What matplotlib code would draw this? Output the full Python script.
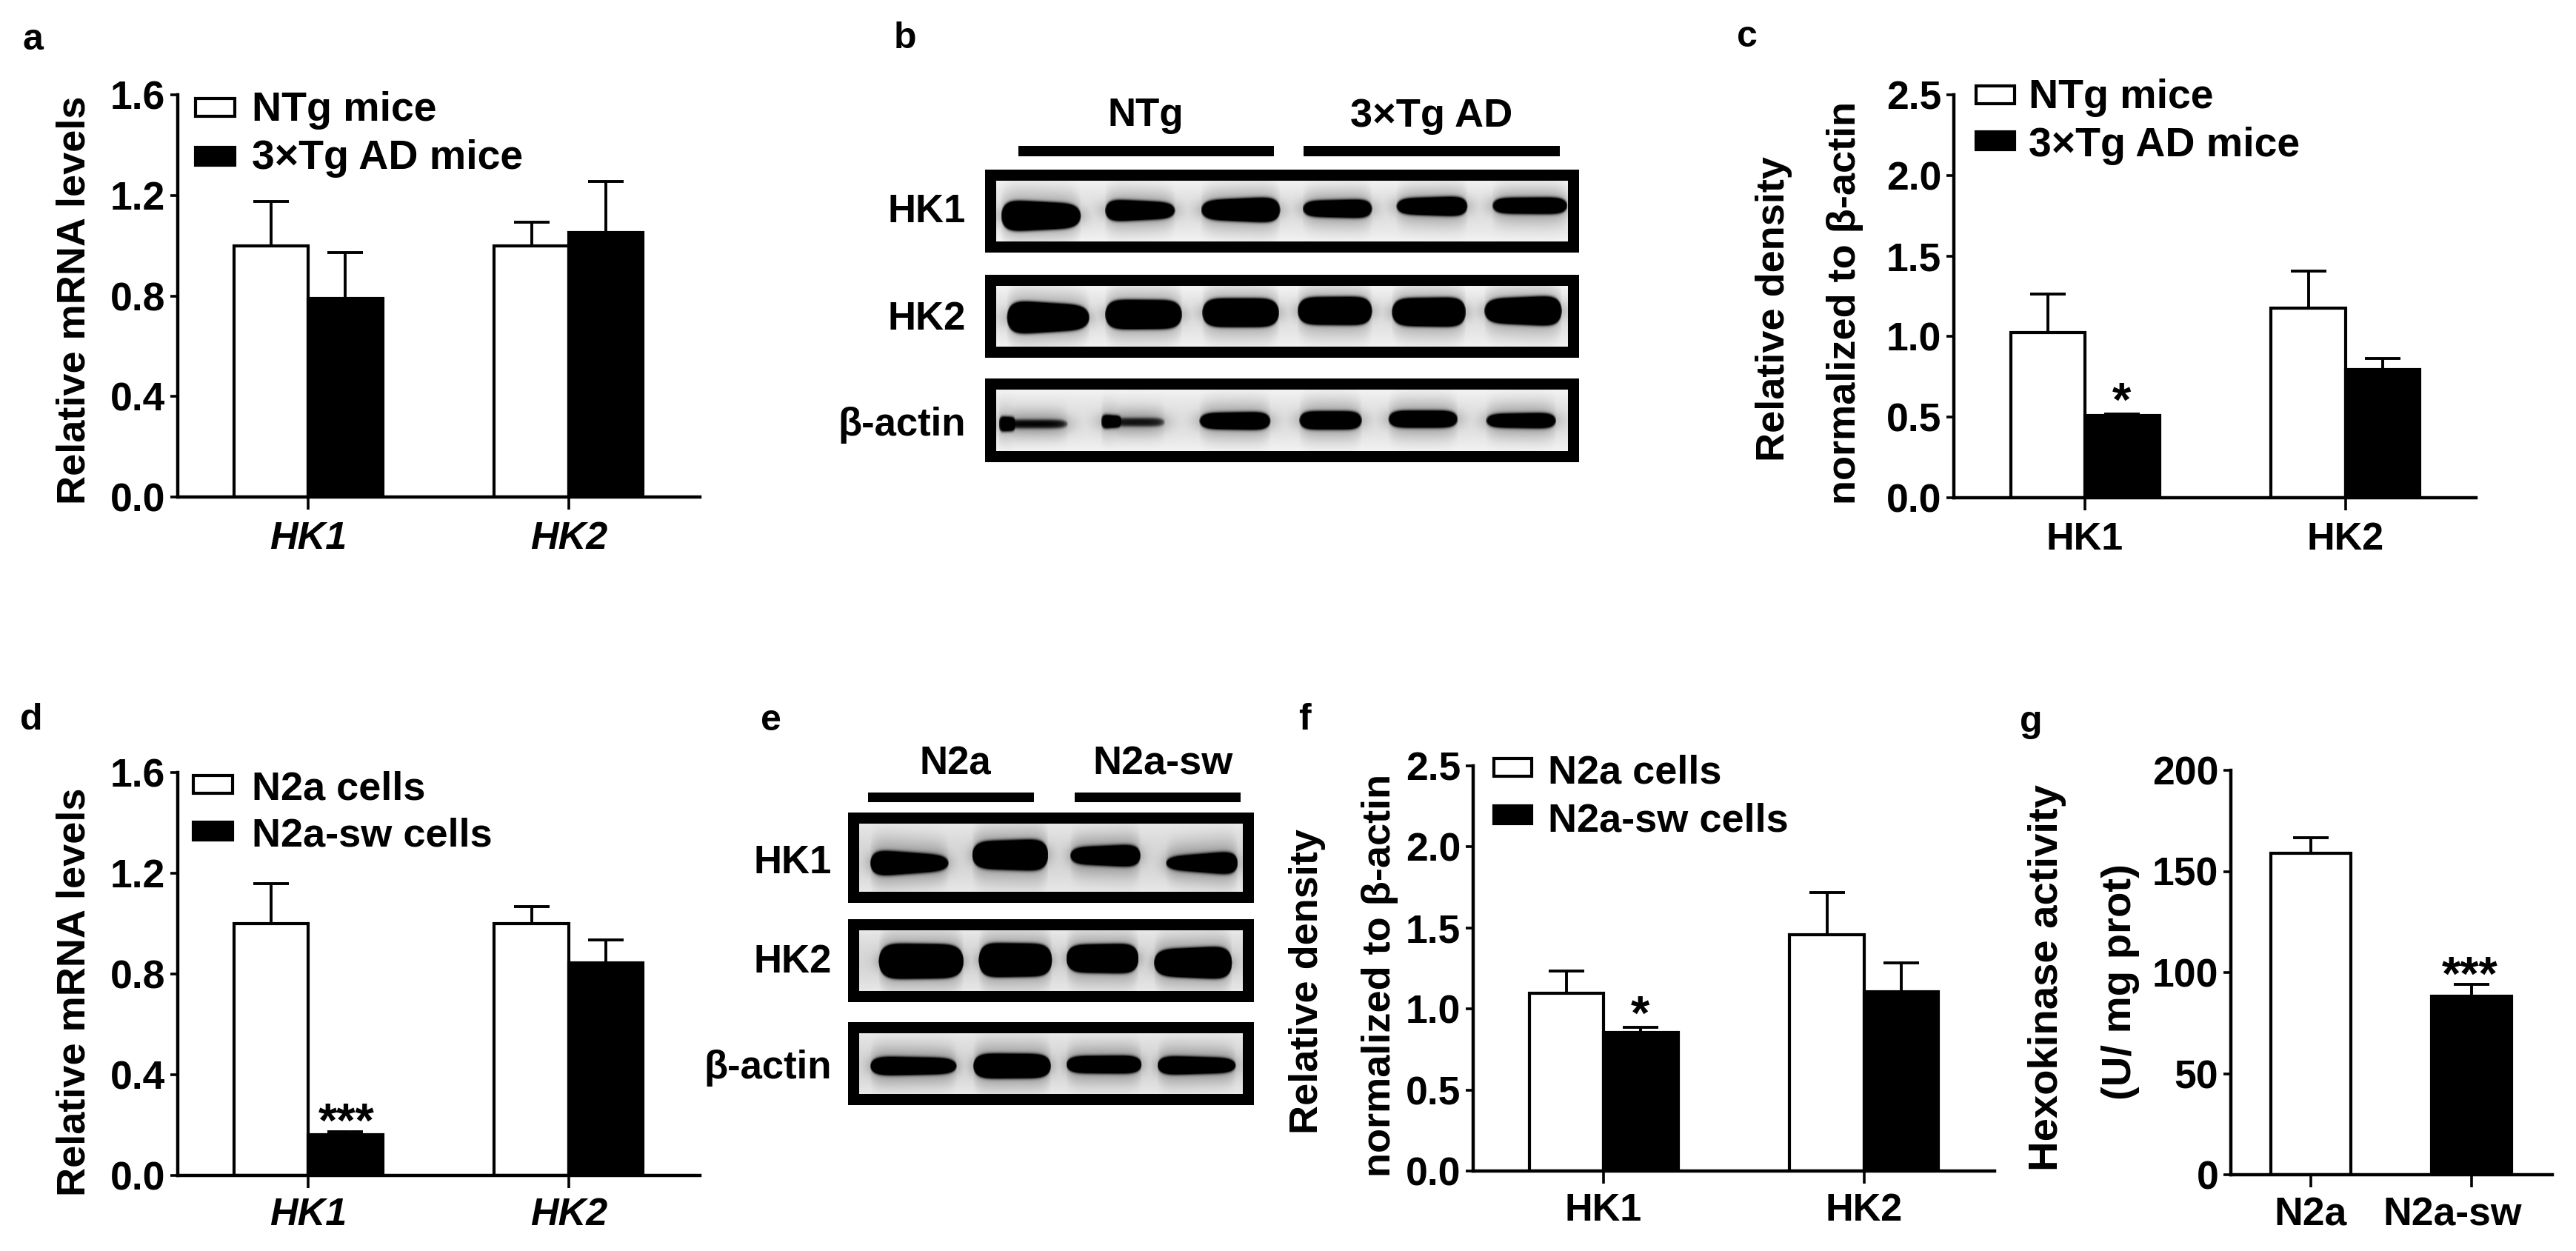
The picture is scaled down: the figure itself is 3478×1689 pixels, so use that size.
import numpy as np
import matplotlib
matplotlib.use('Agg')
import matplotlib.pyplot as plt
from matplotlib.patches import Rectangle
from matplotlib.transforms import ScaledTranslation

plt.rcParams['font.family'] = ['Liberation Sans', 'DejaVu Sans']
plt.rcParams['font.weight'] = 'bold'

W, H = 3478, 1689

# bar values
genes = ['HK1', 'HK2']

a_ntg = [1.0, 1.0]
a_ntg_err = [0.175, 0.092]
a_ad = [0.79, 1.053]
a_ad_err = [0.182, 0.203]

c_ntg = [1.024, 1.175]
c_ntg_err = [0.238, 0.232]
c_ad = [0.508, 0.795]
c_ad_err = [0.012, 0.069]

d_n2a = [1.0, 1.0]
d_n2a_err = [0.16, 0.067]
d_sw = [0.161, 0.843]
d_sw_err = [0.012, 0.093]

f_n2a = [1.095, 1.456]
f_n2a_err = [0.137, 0.263]
f_sw = [0.856, 1.106]
f_sw_err = [0.029, 0.177]

g_names = ['N2a', 'N2a-sw']
g_values = [158.8, 88.2]
g_err = [7.7, 5.8]

# western blot bands: start, end, centre, half height left, half height right, strength
b_hk1 = [(.008, .148, .58, .27, .20, 1.0), (.19, .313, .49, .19, .13, 1.0), (.358, .497, .48, .16, .22, 1.0),
         (.536, .658, .46, .13, .16, 1.0), (.70, .825, .42, .13, .17, 1.0), (.868, 1.0, .41, .13, .14, 1.0)]
b_hk2 = [(.018, .163, .52, .29, .20, 1.0), (.19, .325, .47, .25, .24, 1.0), (.36, .495, .44, .24, .24, 1.0),
         (.527, .658, .41, .23, .24, 1.0), (.692, .822, .43, .23, .25, 1.0), (.854, .99, .41, .20, .26, 1.0)]
b_actin = [(.004, .034, .56, .13, .11, 1.0), (.008, .125, .56, .07, .07, .6), (.183, .22, .52, .12, .09, 1.0),
           (.19, .295, .53, .065, .07, .55), (.355, .48, .51, .13, .15, 1.0), (.53, .64, .50, .15, .15, 1.0),
           (.686, .808, .48, .14, .14, 1.0), (.857, .98, .505, .11, .13, 1.0)]
e_hk1 = [(.028, .233, .58, .20, .11, 1.0), (.294, .493, .46, .20, .24, 1.0), (.55, .734, .47, .12, .17, 1.0),
         (.80, .988, .58, .09, .18, 1.0)]
e_hk2 = [(.05, .272, .51, .30, .28, 1.0), (.311, .503, .49, .29, .27, 1.0), (.54, .729, .465, .23, .25, 1.0),
         (.769, .973, .535, .22, .28, 1.0)]
e_actin = [(.028, .254, .54, .16, .13, 1.0), (.297, .50, .54, .21, .20, 1.0), (.54, .737, .516, .14, .15, 1.0),
           (.778, .983, .53, .16, .12, 1.0)]

fig = plt.figure(figsize=(W / 100, H / 100), dpi=100, facecolor='white')


def add_ax(x0, y_bottom, x1, y_top):
    return fig.add_axes([x0 / W, 1 - y_bottom / H, (x1 - x0) / W, (y_bottom - y_top) / H])


def label(x, y, s, size=39, **kw):
    # y is the middle of the capitals, in pixels from the top
    kw.setdefault('ha', 'left')
    fig.text(x / W, 1 - (y + 0.36 * size / 0.72) / H, s, fontsize=size, va='baseline', **kw)


def ylabel(x, y, s, size=39):
    fig.text((x + 0.36 * size / 0.72) / W, 1 - y / H, s, fontsize=size, rotation=90,
             ha='center', va='baseline', rotation_mode='anchor')


def style_axis(ax, ymax, yticks, yfmt, xpad):
    ax.set_ylim(0, ymax)
    ax.set_yticks(yticks)
    ax.set_yticklabels([yfmt % t for t in yticks], fontsize=38.5, fontweight='bold')
    for s in ['top', 'right']:
        ax.spines[s].set_visible(False)
    for s in ['left', 'bottom']:
        ax.spines[s].set_linewidth(3.2)
    ax.tick_params(axis='y', length=7, width=2.6, pad=5)
    ax.tick_params(axis='x', length=12, width=2.6, pad=xpad)
    ax.patch.set_alpha(0)


def bar_panel(box, first_tick, white, white_err, black, black_err, ymax, yticks, yfmt, italic, xpad=9):
    ax = add_ax(*box)
    x = np.array([0.0, 3.5])
    px_per_bar = 100.5
    ax.set_xlim(-(first_tick - box[0]) / px_per_bar, (box[2] - first_tick) / px_per_bar)
    ax.bar(x - 0.5, white, 1.0, color='white', edgecolor='black', linewidth=3)
    ax.bar(x + 0.5, black, 1.0, color='black', edgecolor='black', linewidth=3)
    ax.errorbar(x - 0.5, white, yerr=[[0, 0], white_err], fmt='none', ecolor='black', elinewidth=2.8, capsize=17, capthick=2.8)
    ax.errorbar(x + 0.5, black, yerr=[[0, 0], black_err], fmt='none', ecolor='black', elinewidth=2.8, capsize=17, capthick=2.8)
    style_axis(ax, ymax, yticks, yfmt, xpad)
    ax.set_xticks(x)
    ax.set_xticklabels(genes, fontsize=37.5, fontweight='bold', fontstyle='italic' if italic else 'normal')
    return ax


def legend(rx0, rx1, y1, y2, tx, t1, t2, s1, s2, size=39):
    h = 24
    for y, face in [(y1, 'white'), (y2, 'black')]:
        fig.add_artist(Rectangle((rx0 / W, 1 - (y + h / 2) / H), (rx1 - rx0) / W, h / H, transform=fig.transFigure,
                                 facecolor=face, edgecolor='black', linewidth=3))
    label(tx, t1, s1, size=size)
    label(tx, t2, s2, size=size)


def strip(bands, w, h, bg):
    xx = np.linspace(0, 1, w)[None, :]
    yy = np.linspace(0, 1, h)[:, None]
    img = np.full((h, w), bg, dtype=float)
    # strips get a little lighter towards the top and bottom edge
    img = img + 0.07 * (2 * np.abs(yy - 0.5)) ** 2
    dark = np.zeros((h, w))
    halo = np.zeros((h, w))
    for start, end, centre, h_left, h_right, power in bands:
        u = np.clip((xx - start) / (end - start), 0, 1)
        half = (h_left + (h_right - h_left) * u) * np.sqrt(np.clip(1 - (2 * u - 1) ** 6, 0, 1))
        in_x = 0.5 * (np.tanh((xx - start) / 0.006) - np.tanh((xx - end) / 0.006))
        in_y = 0.5 * (np.tanh((yy - centre + half) / 0.03) - np.tanh((yy - centre - half) / 0.03))
        dark = np.maximum(dark, in_x * in_y * power)
        wide = np.exp(-((yy - centre) / (half + 0.16)) ** 2)
        wide_x = 0.5 * (np.tanh((xx - start) / 0.02) - np.tanh((xx - end) / 0.02))
        halo = np.maximum(halo, wide_x * wide)
    return np.clip(img - 0.28 * halo - dark, 0, 1)


def blot(x0, x1, rows, bands_list, names, lab_x, lab_ys, bg):
    for (y_top, y_bot), bands, name, ly in zip(rows, bands_list, names, lab_ys):
        fig.add_artist(Rectangle(((x0 - 15) / W, 1 - (y_bot + 15) / H), (x1 - x0 + 30) / W, (y_bot - y_top + 30) / H,
                                 transform=fig.transFigure, facecolor='black', edgecolor='none'))
        ax = add_ax(x0, y_bot, x1, y_top)
        ax.set_zorder(3)
        ax.imshow(strip(bands, x1 - x0, y_bot - y_top, bg), cmap='gray', vmin=0, vmax=1, aspect='auto')
        ax.axis('off')
        label(lab_x, ly, name, size=38, ha='right')


# panel a
bar_panel((240, 671, 945, 128), 416, a_ntg, a_ntg_err, a_ad, a_ad_err, 1.6, [0, .4, .8, 1.2, 1.6], '%.1f', True, xpad=11)
ylabel(95, 405, 'Relative mRNA levels')
legend(264, 317, 145, 211, 340, 143, 208, 'NTg mice', '3×Tg AD mice', size=40)

# panel c
bar_panel((2638, 672, 3343, 128), 2815, c_ntg, c_ntg_err, c_ad, c_ad_err, 2.5, [0, .5, 1, 1.5, 2, 2.5], '%.1f', False, xpad=11)
ylabel(2389, 417, 'Relative density')
ylabel(2486, 409, 'normalized to β-actin')
legend(2668, 2720, 128, 190, 2739, 126, 191, 'NTg mice', '3×Tg AD mice', size=40)
label(2865, 538, '*', size=47, ha='center')

# panel d
bar_panel((240, 1587, 945, 1043), 416, d_n2a, d_n2a_err, d_sw, d_sw_err, 1.6, [0, .4, .8, 1.2, 1.6], '%.1f', True)
ylabel(95, 1339, 'Relative mRNA levels')
legend(261, 314, 1059, 1122, 340, 1060, 1123, 'N2a cells', 'N2a-sw cells')
label(468, 1511, '***', size=47, ha='center')

# panel f
bar_panel((1989, 1581, 2693, 1034), 2165, f_n2a, f_n2a_err, f_sw, f_sw_err, 2.5, [0, .5, 1, 1.5, 2, 2.5], '%.1f', False)
ylabel(1760, 1325, 'Relative density')
ylabel(1858, 1317, 'normalized to β-actin')
legend(2017, 2068, 1036, 1100, 2090, 1038, 1103, 'N2a cells', 'N2a-sw cells')
label(2215, 1366, '*', size=47, ha='center')

# panel g
ax = add_ax(3012, 1586, 3446, 1040)
ax.set_xlim(-108 / 217, 326 / 217)
ax.bar([0], g_values[:1], 0.5, color='white', edgecolor='black', linewidth=3)
ax.bar([1], g_values[1:], 0.5, color='black', edgecolor='black', linewidth=3)
ax.errorbar([0, 1], g_values, yerr=[[0, 0], g_err], fmt='none', ecolor='black', elinewidth=2.8, capsize=17, capthick=2.8)
style_axis(ax, 200, [0, 50, 100, 150, 200], '%d', 9)
ax.set_xticks([0, 1])
ax.set_xticklabels(g_names, fontsize=38.5, fontweight='bold')
# the N2a-sw label sits left of its tick in the original
lab = ax.get_xticklabels()[1]
lab.set_transform(lab.get_transform() + ScaledTranslation(-0.26, 0, fig.dpi_scale_trans))
ylabel(2758, 1320, 'Hexokinase activity', size=40.5)
ylabel(2857, 1326, '(U/ mg prot)', size=40.5)
label(3335, 1313, '***', size=47, ha='center')

# blot b
blot(1345, 2117, [(244, 326), (386, 468), (526, 609)], [b_hk1, b_hk2, b_actin], ['HK1', 'HK2', 'β-actin'],
     1304, [281, 426, 569], 0.88)
for x0, x1 in [(1375, 1720), (1760, 2106)]:
    fig.add_artist(Rectangle((x0 / W, 1 - 211 / H), (x1 - x0) / W, 14 / H, transform=fig.transFigure, facecolor='black', edgecolor='none'))
label(1547, 151, 'NTg', size=38, ha='center')
label(1933, 151, '3×Tg AD', size=39, ha='center')

# blot e
blot(1160, 1678, [(1112, 1204), (1256, 1338), (1395, 1477)], [e_hk1, e_hk2, e_actin], ['HK1', 'HK2', 'β-actin'],
     1123, [1160, 1294, 1437], 0.84)
for x0, x1 in [(1172, 1396), (1451, 1675)]:
    fig.add_artist(Rectangle((x0 / W, 1 - 1083 / H), (x1 - x0) / W, 13 / H, transform=fig.transFigure, facecolor='black', edgecolor='none'))
label(1290, 1026, 'N2a', size=38, ha='center')
label(1570, 1026, 'N2a-sw', size=39, ha='center')

# panel letters
for letter, x, y in [('a', 30, 49), ('b', 1207, 47), ('c', 2345, 45), ('d', 27, 967),
                     ('e', 1027, 968), ('f', 1753, 967), ('g', 2727, 970)]:
    label(x, y, letter, size=36)

fig.savefig('out.png', dpi=100)
